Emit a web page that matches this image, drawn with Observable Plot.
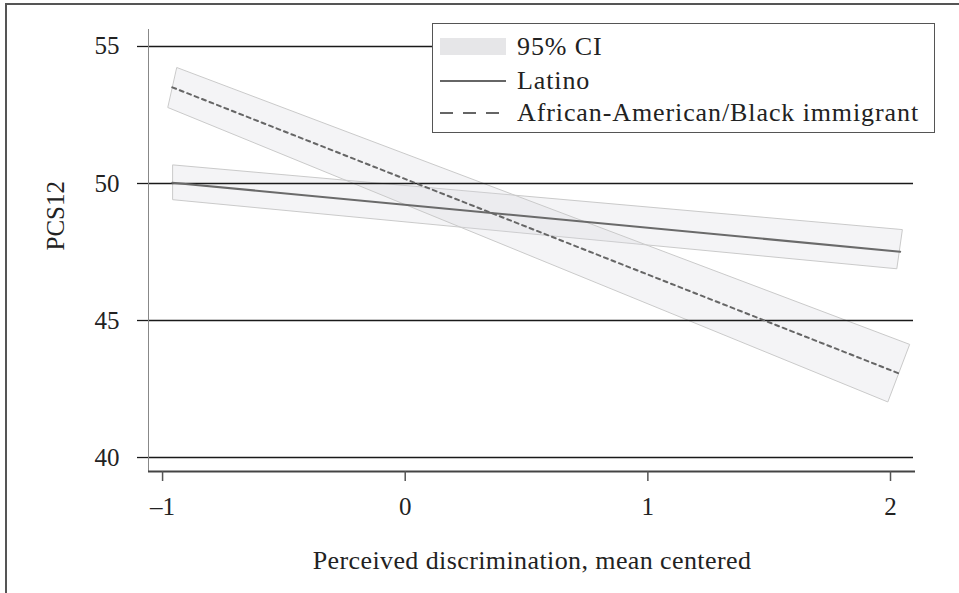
<!DOCTYPE html>
<html>
<head>
<meta charset="utf-8">
<script src="https://cdn.jsdelivr.net/npm/d3@7"></script>
<script src="https://cdn.jsdelivr.net/npm/@observablehq/plot@0.6"></script>
<style>
  html, body { margin: 0; padding: 0; background: #fff; }
  #wrap { position: relative; width: 959px; height: 593px; overflow: hidden; font-family: "Liberation Serif", "Times New Roman", serif; color: #222; }
  #wrap svg.plot { position: absolute; left: 0; top: 0; }
  #frame { position: absolute; left: 5px; top: 3px; width: 1000px; height: 700px; border-top: 2px solid #555; border-left: 2px solid #555; pointer-events: none; }
  #legend { position: absolute; left: 432px; top: 23px; width: 503px; height: 110px; border: 1.5px solid #555; background: #fff; box-sizing: border-box; }
  .row { position: absolute; left: 7px; height: 30px; display: flex; align-items: center; font-size: 26px; letter-spacing: 0.9px; white-space: nowrap; font-family: "Liberation Serif", serif; }
  .row svg { margin-right: 11px; }
</style>
</head>
<body>
<div id="wrap">
  <div id="frame"></div>
</div>
<script>
// ---- data ----
const xTicks = [-1, 0, 1, 2];
const yTicks = [40, 45, 50, 55];
const xDomain = [-1.058, 2.103];
const yDomain = [39.49, 55.62];

const seriesNames = ["95% CI", "Latino", "African-American/Black immigrant"];
const xLabel = "Perceived discrimination, mean centered";
const yLabel = "PCS12";

// fitted lines (end points)
const latinoX = [-0.96, 2.04];
const latinoY = [50.03, 47.51];
const blackX = [-0.96, 2.04];
const blackY = [53.51, 43.05];

// 95% CI band corners (upper and lower boundary, each from left end to right end)
const latinoUpperX = [-0.955, 2.051];
const latinoUpperY = [50.66, 48.30];
const latinoLowerX = [-0.955, 2.028];
const latinoLowerY = [49.39, 46.87];
const blackUpperX = [-0.938, 2.081];
const blackUpperY = [54.21, 44.11];
const blackLowerX = [-0.975, 1.991];
const blackLowerY = [52.75, 42.01];

// ---- build tables ----
const idx = [0, 1];
const band = (ux, uy, lx, ly) => idx.map(i => ({x1: ux[i], y1: uy[i], x2: lx[i], y2: ly[i]}));
const latinoBand = band(latinoUpperX, latinoUpperY, latinoLowerX, latinoLowerY);
const blackBand = band(blackUpperX, blackUpperY, blackLowerX, blackLowerY);
const latinoLine = idx.map(i => ({x: latinoX[i], y: latinoY[i]}));
const blackLine = idx.map(i => ({x: blackX[i], y: blackY[i]}));

const FONT = "'Liberation Serif', 'Times New Roman', serif";
const bandStyle = {x1: "x1", y1: "y1", x2: "x2", y2: "y2", fill: "#d8d8de", fillOpacity: 0.27, stroke: "#cacaca", strokeWidth: 1};
const fmt = d => (d < 0 ? "\u2013" + Math.abs(d) : String(d));

const chart = Plot.plot({
  width: 959,
  height: 593,
  marginLeft: 148,
  marginRight: 44,
  marginTop: 29,
  marginBottom: 122,
  x: {domain: xDomain, axis: null},
  y: {domain: yDomain, axis: null},
  style: {fontFamily: FONT, fontSize: "25px", background: "transparent", color: "#222", overflow: "visible"},
  marks: [
    Plot.area(latinoBand, bandStyle),
    Plot.area(blackBand, bandStyle),
    Plot.ruleY(yTicks, {stroke: "#1a1a1a", strokeWidth: 1.3, insetRight: 2}),
    Plot.ruleX([xDomain[0]], {stroke: "#888", strokeWidth: 1}),
    Plot.ruleY([yDomain[0]], {stroke: "#444", strokeWidth: 2}),
    Plot.line(latinoLine, {x: "x", y: "y", stroke: "#6a6a6a", strokeWidth: 2}),
    Plot.line(blackLine, {x: "x", y: "y", stroke: "#666", strokeWidth: 2, strokeDasharray: "4,4"}),
    Plot.axisY(yTicks, {tickSize: 11, tickPadding: 18, stroke: "#1a1a1a", strokeWidth: 1.3, fontSize: 25, fontFamily: FONT, tickFormat: fmt, label: null}),
    Plot.axisX(xTicks, {tickSize: 10, tickPadding: 16, stroke: "#555", strokeWidth: 1.5, fontSize: 25, fontFamily: FONT, tickFormat: fmt, label: null}),
    Plot.text([yLabel], {frameAnchor: "left", rotate: -90, dx: -93, fontSize: 25, fontFamily: FONT, fill: "#222"}),
    Plot.text([xLabel], {frameAnchor: "bottom", dy: 97, fontSize: 26, fontFamily: FONT, fill: "#222"})
  ]
});
chart.classList.add("plot");
const wrap = document.getElementById("wrap");
wrap.insertBefore(chart, wrap.firstChild);
chart.querySelectorAll("text").forEach(t => { if (t.textContent === xLabel) t.style.letterSpacing = "0.4px"; });

// ---- legend ----
const legend = document.createElement("div");
legend.id = "legend";
const swatches = [
  `<svg width="66" height="20"><rect x="0" y="1" width="66" height="17" fill="#e6e6e8"/></svg>`,
  `<svg width="66" height="20"><line x1="0" x2="66" y1="10" y2="10" stroke="#333" stroke-width="1.3"/></svg>`,
  `<svg width="66" height="20"><line x1="0" x2="66" y1="10" y2="10" stroke="#333" stroke-width="1.3" stroke-dasharray="13,10"/></svg>`
];
const rowTops = [8, 42, 74];
seriesNames.forEach((name, i) => {
  const r = document.createElement("div");
  r.className = "row";
  r.style.top = rowTops[i] + "px";
  r.innerHTML = swatches[i] + `<span>${name}</span>`;
  legend.appendChild(r);
});
wrap.appendChild(legend);
</script>
</body>
</html>
